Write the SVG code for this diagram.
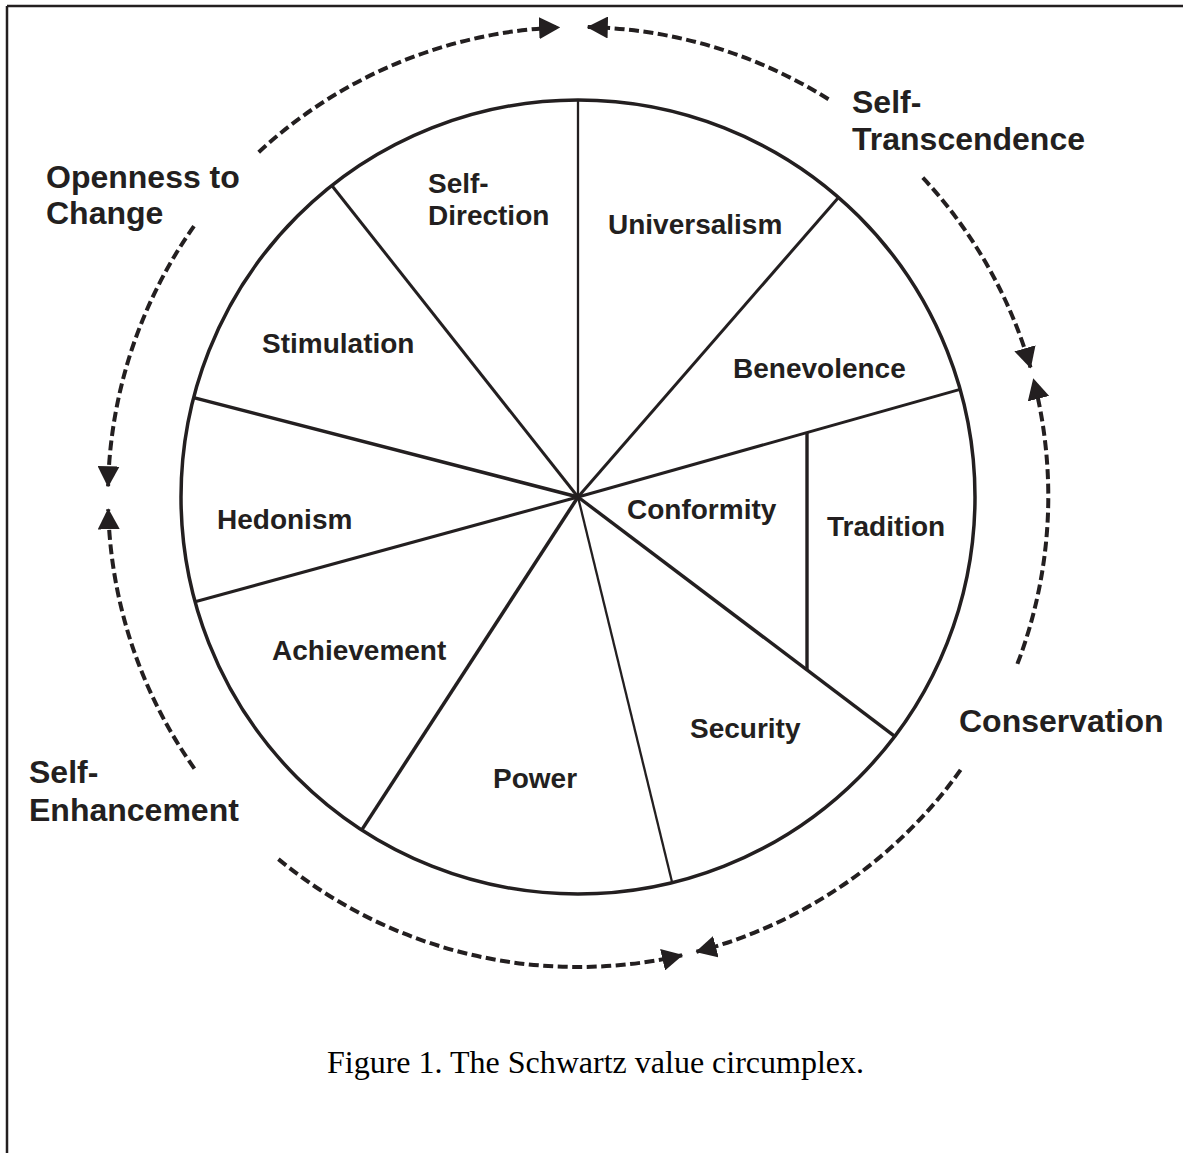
<svg xmlns="http://www.w3.org/2000/svg" width="1183" height="1153" viewBox="0 0 1183 1153">
  <style>
    .ink { stroke: #231f20; fill: none; stroke-linecap: butt; }
    .rim { stroke-width: 3.5; }
    .spoke { stroke-width: 3; }
    .thin { stroke-width: 2.3; }
    .frame { stroke-width: 2.5; }
    .value { font-family: "Liberation Sans", Arial, sans-serif; font-weight: bold; font-size: 28px; fill: #231f20; }
    .dimension { font-family: "Liberation Sans", Arial, sans-serif; font-weight: bold; font-size: 32px; fill: #231f20; }
    .caption { font-family: "Liberation Serif", "Times New Roman", serif; font-size: 32px; fill: #000; }
    .flow { stroke: #231f20; stroke-width: 4; fill: none; stroke-dasharray: 10 4.5; marker-end: url(#head); }
  </style>
  <defs>
    <marker id="head" markerUnits="userSpaceOnUse" viewBox="0 0 21 22" refX="20" refY="11" markerWidth="21" markerHeight="22" orient="auto">
      <path d="M0,0 L21,11 L0,22 Z" fill="#231f20"/>
    </marker>
  </defs>

  <rect width="1183" height="1153" fill="#fff"/>

  <!-- page frame: top and left rules only -->
  <g id="frame" class="ink frame">
    <line x1="7" y1="6" x2="1183" y2="6"/>
    <line x1="7" y1="6" x2="7" y2="1153"/>
  </g>

  <!-- value wheel -->
  <g id="wheel" class="ink">
    <circle class="rim" cx="578" cy="497" r="397"/>
    <line class="thin" x1="578" y1="497" x2="578" y2="100"/>
    <line class="spoke" x1="578" y1="497" x2="331.8" y2="185.5"/>
    <line class="spoke" x1="578" y1="497" x2="193.6" y2="397.6" style="stroke-width:3.5"/>
    <line class="spoke" x1="578" y1="497" x2="195.1" y2="601.8"/>
    <line class="spoke" x1="578" y1="497" x2="361.8" y2="829.9" style="stroke-width:3.5"/>
    <line class="thin" x1="578" y1="497" x2="672.2" y2="882.7"/>
    <line class="spoke" x1="578" y1="497" x2="894.8" y2="736.3" style="stroke-width:3.4"/>
    <line class="spoke" x1="578" y1="497" x2="960.1" y2="389.4"/>
    <line class="spoke" x1="578" y1="497" x2="838.5" y2="197.4"/>
    <line class="spoke" x1="807" y1="432.5" x2="807" y2="670" style="stroke-width:3.4"/>
  </g>

  <!-- the ten values -->
  <g id="self-direction"><text class="value" x="428" y="193">Self-</text><text class="value" x="428" y="225">Direction</text></g>
  <g id="universalism"><text class="value" x="608" y="234">Universalism</text></g>
  <g id="benevolence"><text class="value" x="733" y="378">Benevolence</text></g>
  <g id="stimulation"><text class="value" x="262" y="353">Stimulation</text></g>
  <g id="hedonism"><text class="value" x="217" y="529">Hedonism</text></g>
  <g id="conformity"><text class="value" x="627" y="519">Conformity</text></g>
  <g id="tradition"><text class="value" x="827" y="536">Tradition</text></g>
  <g id="achievement"><text class="value" x="272" y="660">Achievement</text></g>
  <g id="security"><text class="value" x="690" y="738">Security</text></g>
  <g id="power"><text class="value" x="493" y="788">Power</text></g>

  <!-- higher-order dimensions -->
  <g id="openness"><text class="dimension" x="46" y="188">Openness to</text><text class="dimension" x="46" y="224">Change</text></g>
  <g id="self-transcendence"><text class="dimension" x="852" y="113">Self-</text><text class="dimension" x="852" y="150">Transcendence</text></g>
  <g id="conservation"><text class="dimension" x="959" y="732">Conservation</text></g>
  <g id="self-enhancement"><text class="dimension" x="29" y="783">Self-</text><text class="dimension" x="29" y="821">Enhancement</text></g>

  <!-- dashed arcs (r = 470 about the wheel centre) -->
  <g id="connectors">
    <path class="flow" d="M258.7,152.2 A470,470 0 0 1 559.1,27.4"/>
    <path class="flow" d="M828.5,99.3 A470,470 0 0 0 587.8,27.1"/>
    <path class="flow" d="M922.8,177.7 A470,470 0 0 1 1030.5,367.5"/>
    <path class="flow" d="M1017.4,663.9 A470,470 0 0 0 1033.5,379.3"/>
    <path class="flow" d="M960.6,769.9 A470,470 0 0 1 696.5,951.8"/>
    <path class="flow" d="M278.4,859.1 A470,470 0 0 0 682.1,955.3"/>
    <path class="flow" d="M194.4,768.6 A470,470 0 0 1 108.2,509.3"/>
    <path class="flow" d="M194.0,226.1 A470,470 0 0 0 108.1,486.3"/>
  </g>

  <g id="caption"><text class="caption" x="327" y="1073">Figure 1. The Schwartz value circumplex.</text></g>
</svg>
